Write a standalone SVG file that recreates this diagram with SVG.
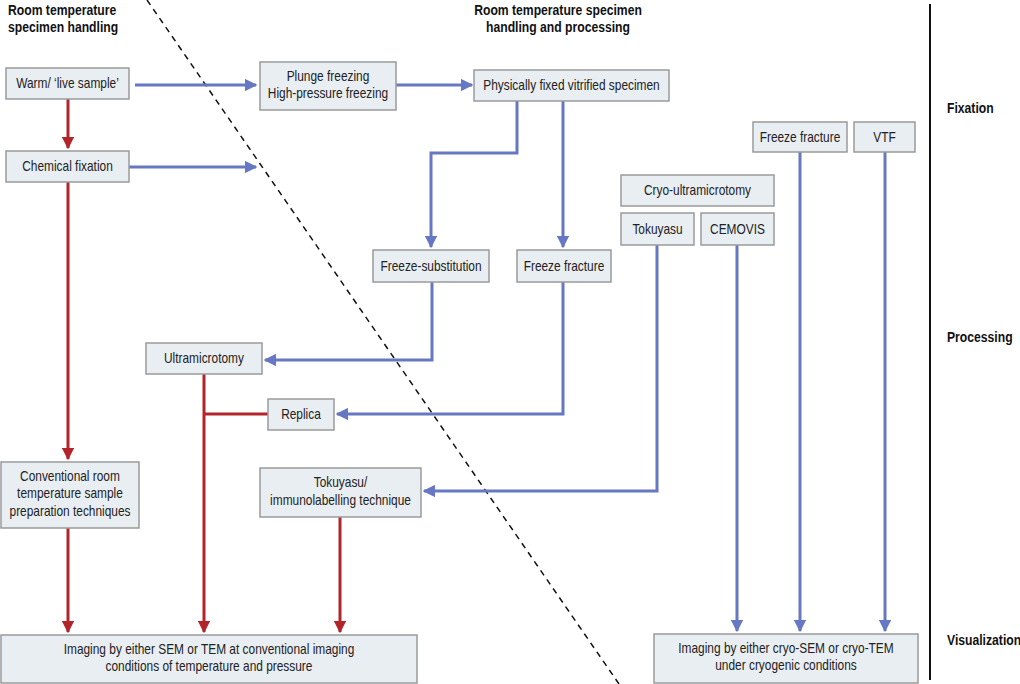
<svg xmlns="http://www.w3.org/2000/svg" width="1020" height="684" viewBox="0 0 1020 684">
  <style>
    .box { fill: #e9eef3; stroke: #9a9a9a; stroke-width: 1.5; }
    .lbl { font-family: "Liberation Sans", Arial, sans-serif; font-size: 14px; fill: #222; text-anchor: middle; }
    .hdr { font-family: "Liberation Sans", Arial, sans-serif; font-size: 14.5px; font-weight: bold; fill: #111; }
    .blue { fill: none; stroke: #6677c4; stroke-width: 3; }
    .red { fill: none; stroke: #b3242a; stroke-width: 3; }
  </style>
  <defs>
    <marker id="ab" viewBox="0 0 10 10" refX="9" refY="5" markerWidth="4.2" markerHeight="4.2" orient="auto" markerUnits="strokeWidth">
      <path d="M0,0 L10,5 L0,10 Z" fill="#6677c4"/>
    </marker>
    <marker id="ar" viewBox="0 0 10 10" refX="9" refY="5" markerWidth="4.2" markerHeight="4.2" orient="auto" markerUnits="strokeWidth">
      <path d="M0,0 L10,5 L0,10 Z" fill="#b3242a"/>
    </marker>
  </defs>
  <rect width="1020" height="684" fill="#ffffff"/>

  <!-- section divider and stage bar -->
  <line x1="147" y1="0" x2="619" y2="684" stroke="#111" stroke-width="1.5" stroke-dasharray="6,5"/>
  <line x1="930" y1="4" x2="930" y2="680" stroke="#111" stroke-width="2"/>

  <!-- headings (condensed horizontally about their anchor) -->
  <g transform="matrix(0.84 0 0 1 1.28 0)">
    <text class="hdr" x="8" y="15">Room temperature</text>
    <text class="hdr" x="8" y="32">specimen handling</text>
  </g>
  <g transform="matrix(0.84 0 0 1 89.28 0)">
    <text class="hdr" x="558" y="15" text-anchor="middle">Room temperature specimen</text>
    <text class="hdr" x="558" y="32" text-anchor="middle">handling and processing</text>
  </g>
  <g transform="matrix(0.84 0 0 1 151.52 0)">
    <text class="hdr" x="947" y="113">Fixation</text>
    <text class="hdr" x="947" y="342">Processing</text>
    <text class="hdr" x="947" y="645">Visualization</text>
  </g>

  <!-- connectors -->
  <g id="connectors">
    <path class="blue" d="M135,85 H256" marker-end="url(#ab)"/>
    <path class="blue" d="M129,167 H256" marker-end="url(#ab)"/>
    <path class="blue" d="M396,85 H472" marker-end="url(#ab)"/>
    <path class="blue" d="M517,101 V153 H431 V247" marker-end="url(#ab)"/>
    <path class="blue" d="M563,101 V247" marker-end="url(#ab)"/>
    <path class="blue" d="M432,282 V360 H265" marker-end="url(#ab)"/>
    <path class="blue" d="M563,282 V414 H337" marker-end="url(#ab)"/>
    <path class="blue" d="M657,245 V491 H424" marker-end="url(#ab)"/>
    <path class="blue" d="M737,245 V631" marker-end="url(#ab)"/>
    <path class="blue" d="M800,152 V631" marker-end="url(#ab)"/>
    <path class="blue" d="M885,152 V631" marker-end="url(#ab)"/>
    <path class="red" d="M68,99 V148" marker-end="url(#ar)"/>
    <path class="red" d="M68,182 V459" marker-end="url(#ar)"/>
    <path class="red" d="M68,528 V632" marker-end="url(#ar)"/>
    <path class="red" d="M204,374 V632" marker-end="url(#ar)"/>
    <path class="red" d="M204,414 H268"/>
    <path class="red" d="M340,517 V632" marker-end="url(#ar)"/>
  </g>

  <!-- nodes: labels condensed to 85% width around the box centre -->
  <g id="warm"><rect class="box" x="6" y="68" width="123" height="31"/><g transform="matrix(0.85 0 0 1 10.13 0)"><text class="lbl" x="67.5" y="88.5">Warm/ ‘live sample’</text></g></g>
  <g id="chemical"><rect class="box" x="6" y="151" width="123" height="31"/><g transform="matrix(0.85 0 0 1 10.13 0)"><text class="lbl" x="67.5" y="171.5">Chemical fixation</text></g></g>
  <g id="plunge"><rect class="box" x="260" y="62" width="136" height="48"/><g transform="matrix(0.85 0 0 1 49.2 0)"><text class="lbl" x="328" y="81">Plunge freezing</text><text class="lbl" x="328" y="98">High-pressure freezing</text></g></g>
  <g id="vitrified"><rect class="box" x="474" y="70" width="195" height="31"/><g transform="matrix(0.85 0 0 1 85.73 0)"><text class="lbl" x="571.5" y="90.5">Physically fixed vitrified specimen</text></g></g>
  <g id="ff-top"><rect class="box" x="753" y="122" width="94" height="30"/><g transform="matrix(0.85 0 0 1 120 0)"><text class="lbl" x="800" y="142">Freeze fracture</text></g></g>
  <g id="vtf"><rect class="box" x="854" y="122" width="61" height="30"/><g transform="matrix(0.85 0 0 1 132.68 0)"><text class="lbl" x="884.5" y="142">VTF</text></g></g>
  <g id="cryo-um"><rect class="box" x="621" y="175" width="153" height="31"/><g transform="matrix(0.85 0 0 1 104.63 0)"><text class="lbl" x="697.5" y="195.5">Cryo-ultramicrotomy</text></g></g>
  <g id="tokuyasu"><rect class="box" x="621" y="213" width="73" height="32"/><g transform="matrix(0.85 0 0 1 98.63 0)"><text class="lbl" x="657.5" y="234">Tokuyasu</text></g></g>
  <g id="cemovis"><rect class="box" x="701" y="213" width="73" height="32"/><g transform="matrix(0.85 0 0 1 110.63 0)"><text class="lbl" x="737.5" y="234">CEMOVIS</text></g></g>
  <g id="freeze-sub"><rect class="box" x="373" y="250" width="116" height="32"/><g transform="matrix(0.85 0 0 1 64.65 0)"><text class="lbl" x="431" y="271">Freeze-substitution</text></g></g>
  <g id="ff-mid"><rect class="box" x="517" y="250" width="94" height="32"/><g transform="matrix(0.85 0 0 1 84.6 0)"><text class="lbl" x="564" y="271">Freeze fracture</text></g></g>
  <g id="ultramicrotomy"><rect class="box" x="146" y="343" width="116" height="31"/><g transform="matrix(0.85 0 0 1 30.6 0)"><text class="lbl" x="204" y="363.5">Ultramicrotomy</text></g></g>
  <g id="replica"><rect class="box" x="268" y="399" width="66" height="31"/><g transform="matrix(0.85 0 0 1 45.15 0)"><text class="lbl" x="301" y="419.5">Replica</text></g></g>
  <g id="conventional"><rect class="box" x="1" y="462" width="138" height="66"/><g transform="matrix(0.85 0 0 1 10.5 0)"><text class="lbl" x="70" y="481">Conventional room</text><text class="lbl" x="70" y="498">temperature sample</text><text class="lbl" x="70" y="516">preparation techniques</text></g></g>
  <g id="immuno"><rect class="box" x="260" y="468" width="161" height="49"/><g transform="matrix(0.85 0 0 1 51.08 0)"><text class="lbl" x="340.5" y="487">Tokuyasu/</text><text class="lbl" x="340.5" y="505">immunolabelling technique</text></g></g>
  <g id="imaging-rt"><rect class="box" x="1" y="635" width="416" height="48"/><g transform="matrix(0.85 0 0 1 31.35 0)"><text class="lbl" x="209" y="654">Imaging by either SEM or TEM at conventional imaging</text><text class="lbl" x="209" y="671">conditions of temperature and pressure</text></g></g>
  <g id="imaging-cryo"><rect class="box" x="654" y="634" width="264" height="49"/><g transform="matrix(0.85 0 0 1 117.9 0)"><text class="lbl" x="786" y="653">Imaging by either cryo-SEM or cryo-TEM</text><text class="lbl" x="786" y="670">under cryogenic conditions</text></g></g>
</svg>
